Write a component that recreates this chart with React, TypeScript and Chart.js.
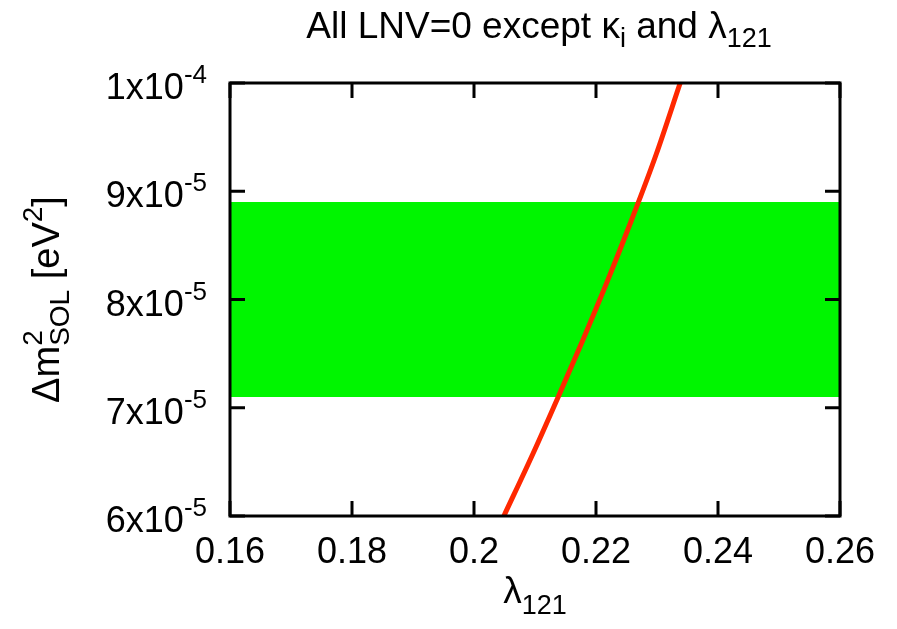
import React, { useEffect, useRef } from "react";
import { Chart, registerables } from "chart.js";

Chart.register(...registerables);

// ---- data ----
const lambdaValues = [0.2049, 0.2097, 0.2138, 0.2178, 0.2218, 0.2258, 0.2298, 0.2338];
const dmSolValues = [6.0e-5, 6.58e-5, 7.1e-5, 7.62e-5, 8.16e-5, 8.73e-5, 9.33e-5, 10.0e-5];
const bandX = [0.16, 0.26];
const bandLow = 7.1e-5;
const bandHigh = 8.9e-5;
const xTicks = [0.16, 0.18, 0.2, 0.22, 0.24, 0.26];
const xTickLabels = ["0.16", "0.18", "0.2", "0.22", "0.24", "0.26"];
const yTicks = [6e-5, 7e-5, 8e-5, 9e-5, 1e-4];
const yTickMantissa = ["6x10", "7x10", "8x10", "9x10", "1x10"];
const yTickExponent = ["-5", "-5", "-5", "-5", "-4"];

const FONT = '"Liberation Sans", Arial, Helvetica, sans-serif';
const BIG = 36;
const SMALL = 26;
const TBIG = 37;
const TSMALL = 27;

type Seg = { t: string; s: number; dy?: number; noAdv?: boolean };

function segWidth(ctx: CanvasRenderingContext2D, segs: Seg[]) {
  let w = 0;
  for (const sg of segs) {
    ctx.font = `${sg.s}px ${FONT}`;
    if (!sg.noAdv) w += ctx.measureText(sg.t).width;
  }
  return w;
}

function drawSegs(ctx: CanvasRenderingContext2D, segs: Seg[], x: number, y: number) {
  let cx = x;
  for (const sg of segs) {
    ctx.font = `${sg.s}px ${FONT}`;
    ctx.fillText(sg.t, cx, y + (sg.dy || 0));
    if (!sg.noAdv) cx += ctx.measureText(sg.t).width;
  }
}

const decorPlugin = {
  id: "decor",
  afterDraw(chart: any) {
    const ctx: CanvasRenderingContext2D = chart.ctx;
    const { left, right, top, bottom } = chart.chartArea;
    const xs = chart.scales.x;
    const ys = chart.scales.y;
    ctx.save();
    ctx.fillStyle = "#000";
    ctx.strokeStyle = "#000";
    ctx.textBaseline = "alphabetic";
    ctx.textAlign = "left";

    // frame
    ctx.lineWidth = 3;
    ctx.strokeRect(left, top, right - left, bottom - top);

    // ticks (inward, both sides)
    const tl = 15;
    ctx.beginPath();
    xTicks.forEach((v) => {
      const px = xs.getPixelForValue(v);
      ctx.moveTo(px, bottom);
      ctx.lineTo(px, bottom - tl);
      ctx.moveTo(px, top);
      ctx.lineTo(px, top + tl);
    });
    yTicks.forEach((v) => {
      const py = ys.getPixelForValue(v);
      ctx.moveTo(left, py);
      ctx.lineTo(left + tl, py);
      ctx.moveTo(right, py);
      ctx.lineTo(right - tl, py);
    });
    ctx.stroke();

    // x tick labels
    xTicks.forEach((v, i) => {
      const px = xs.getPixelForValue(v);
      const segs: Seg[] = [{ t: xTickLabels[i], s: BIG }];
      const w = segWidth(ctx, segs);
      drawSegs(ctx, segs, px - w / 2, bottom + 47);
    });

    // y tick labels
    yTicks.forEach((v, i) => {
      const py = ys.getPixelForValue(v);
      const segs: Seg[] = [
        { t: yTickMantissa[i], s: BIG },
        { t: yTickExponent[i], s: SMALL, dy: -16 },
      ];
      const w = segWidth(ctx, segs);
      drawSegs(ctx, segs, left - 23 - w, py + 16);
    });

    // title
    const titleSegs: Seg[] = [
      { t: "All LNV=0 except κ", s: TBIG },
      { t: "i", s: TSMALL, dy: 9 },
      { t: " and λ", s: TBIG },
      { t: "121", s: TSMALL, dy: 9 },
    ];
    const tw = segWidth(ctx, titleSegs);
    drawSegs(ctx, titleSegs, (left + right) / 2 - tw / 2 + 4, 38);

    // x axis title
    const xtSegs: Seg[] = [
      { t: "λ", s: TBIG },
      { t: "121", s: TSMALL, dy: 11 },
    ];
    const xw = segWidth(ctx, xtSegs);
    drawSegs(ctx, xtSegs, (left + right) / 2 - xw / 2, 603);

    // y axis title (rotated)
    const ytSegs: Seg[] = [
      { t: "Δm", s: 38 },
      { t: "2", s: 28, dy: -17, noAdv: true },
      { t: "SOL", s: 28, dy: 10 },
      { t: " [eV", s: 38 },
      { t: "2", s: 28, dy: -17 },
      { t: "]", s: 38 },
    ];
    const yw = segWidth(ctx, ytSegs);
    ctx.translate(59, (top + bottom) / 2);
    ctx.rotate(-Math.PI / 2);
    drawSegs(ctx, ytSegs, -yw / 2, 0);

    ctx.restore();
  },
};

export default function App() {
  const ref = useRef<HTMLCanvasElement | null>(null);
  useEffect(() => {
    if (!ref.current) return;
    const curve = lambdaValues.map((x, i) => ({ x, y: dmSolValues[i] }));
    const band = bandX.map((x) => ({ x, y: bandHigh }));
    const chart = new Chart(ref.current, {
      type: "line",
      data: {
        datasets: [
          {
            label: "curve",
            data: curve,
            borderColor: "rgb(255,40,0)",
            borderWidth: 5,
            pointRadius: 0,
            fill: false,
            cubicInterpolationMode: "monotone",
            order: 0,
          },
          {
            label: "band",
            data: band,
            borderWidth: 0,
            borderColor: "rgba(0,0,0,0)",
            backgroundColor: "rgb(0,245,0)",
            pointRadius: 0,
            fill: { value: bandLow },
            order: 1,
          },
        ],
      },
      options: {
        animation: false,
        responsive: true,
        maintainAspectRatio: false,
        layout: { padding: { left: 230, right: 57, top: 83, bottom: 113 } },
        plugins: { legend: { display: false }, tooltip: { enabled: false }, title: { display: false } },
        scales: {
          x: { type: "linear", min: 0.16, max: 0.26, display: false },
          y: { type: "linear", min: 6e-5, max: 1e-4, display: false },
        },
      },
      plugins: [decorPlugin],
    });
    return () => chart.destroy();
  }, []);
  return (
    <div style={{ position: "fixed", left: 0, top: 0, width: 897, height: 629, background: "#fff" }}>
      <canvas ref={ref} />
    </div>
  );
}
